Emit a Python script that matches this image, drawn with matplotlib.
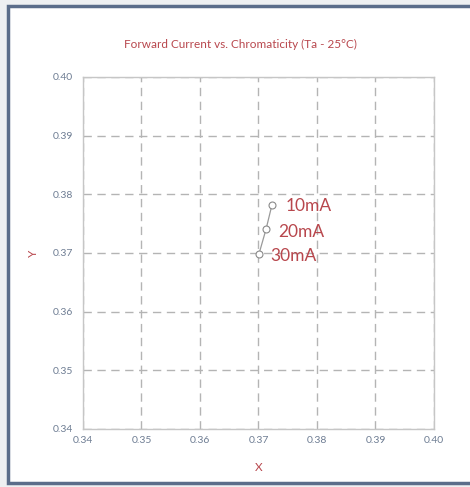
import numpy as np
import matplotlib
matplotlib.use('Agg')
import matplotlib.pyplot as plt
from matplotlib.patches import Rectangle

# chromaticity points per forward current
CURRENTS = ["10mA", "20mA", "30mA"]
CIE_X = [0.3723, 0.3713, 0.3701]
CIE_Y = [0.3782, 0.3741, 0.3699]
TICKS = [0.34, 0.35, 0.36, 0.37, 0.38, 0.39, 0.40]

RED = '#b8474d'
TICK_COL = '#6e7d93'
W, H = 470, 487

plt.rcParams['font.family'] = ['Lato', 'DejaVu Sans']

fig = plt.figure(figsize=(W / 100, H / 100), dpi=100)
fig.patch.set_facecolor('#eef0f2')

# white panel with dark frame
fig.patches.append(Rectangle((8 / W, 1 - 483 / H), 470 / W, 477 / H,
                             transform=fig.transFigure, facecolor='white',
                             edgecolor='#5b6d8a', linewidth=2.5, zorder=-5))

ax = fig.add_axes([83 / W, 1 - 429 / H, 351 / W, 352 / H])
ax.set_facecolor('white')
ax.set_xlim(0.34, 0.40)
ax.set_ylim(0.34, 0.40)
ax.set_xticks(TICKS)
ax.set_yticks(TICKS)
ax.set_xticklabels([f'{t:.2f}' for t in TICKS])
ax.set_yticklabels([f'{t:.2f}' for t in TICKS])
ax.tick_params(length=0, labelsize=7.5, labelcolor=TICK_COL, pad=7)
ax.tick_params(axis='x', pad=5)
for s in ax.spines.values():
    s.set_color('#c6c6c6')
    s.set_linewidth(1)
ax.set_axisbelow(True)
ax.grid(True, color='#b4b4b4', linestyle=(0, (6, 4)), linewidth=1)

ax.plot(CIE_X, CIE_Y, '-', color='#9a9a9a', linewidth=0.9,
        marker='o', markersize=5, markerfacecolor='white',
        markeredgecolor='#8a8a8a', markeredgewidth=0.8, zorder=3)

offsets = [(10, -1), (9, -2), (8, -1.5)]
for lab, x, y, off in zip(CURRENTS, CIE_X, CIE_Y, offsets):
    ax.annotate(lab, (x, y), xytext=off, textcoords='offset points',
                ha='left', va='center', color=RED, fontsize=12.5)

ax.set_xlabel('X', color=RED, fontsize=8.5, labelpad=12)
ax.set_ylabel('Y', color=RED, fontsize=8.5, labelpad=10)
fig.text(240 / W, 1 - 44 / H, 'Forward Current vs. Chromaticity (Ta - 25°C)',
         ha='center', va='center', color=RED, fontsize=8.5)

fig.savefig('out.png', dpi=100)
